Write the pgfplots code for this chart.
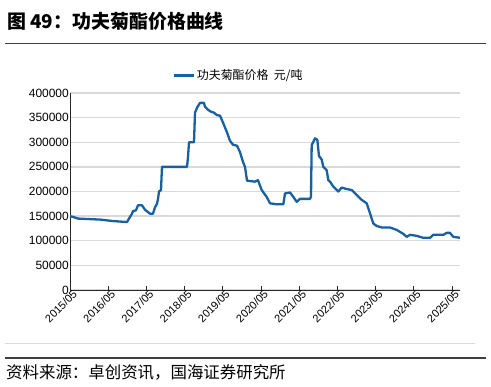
\documentclass[border=0pt]{standalone}
\usepackage{pgfplots}
\pgfplotsset{compat=1.18}
\usepackage{fontspec}
\setmainfont{Liberation Sans}
\newfontfamily\cjk{Noto Sans CJK SC}
\definecolor{lineblue}{RGB}{22,96,164}
\definecolor{gridgray}{RGB}{217,217,217}
\begin{document}
\begin{tikzpicture}[x=1bp,y=1bp]
\path[use as bounding box] (0,0) rectangle (491,386);
% title
\node[anchor=west,inner sep=0pt] at (7,365) {\fontsize{19}{22}\selectfont\cjk\bfseries 图 49：功夫菊酯价格曲线};
\draw[line width=1.2bp,color=black!75] (5,342.5) -- (486,342.5);
% bottom rules
\draw[line width=1bp,color=gridgray] (5,43) -- (475,43);
\draw[line width=1.2bp,color=black!75] (5,28) -- (486,28);
\node[anchor=west,inner sep=0pt] at (6,14) {\fontsize{16.5}{19}\selectfont\cjk 资料来源：卓创资讯，国海证券研究所};
\begin{axis}[
  at={(70bp,96bp)}, anchor=south west,
  scale only axis, width=390bp, height=197bp,
  xmin=0, xmax=10.21, ymin=0, ymax=400000,
  axis x line*=bottom, axis y line*=left,
  axis line style={line width=1bp,black!85},
  xtick={0,1,2,3,4,5,6,7,8,9,10},
  xticklabels={2015/05,2016/05,2017/05,2018/05,2019/05,2020/05,2021/05,2022/05,2023/05,2024/05,2025/05},
  x tick label style={rotate=45,anchor=north east,font=\fontsize{11}{13}\selectfont,inner sep=1bp,xshift=3bp},
  ytick={0,50000,100000,150000,200000,250000,300000,350000,400000},
  y tick label style={font=\fontsize{12}{14}\selectfont,inner sep=1bp},
  yticklabel style={/pgf/number format/fixed,/pgf/number format/1000 sep={}},
  /pgf/number format/assume math mode=true,
  scaled y ticks=false,
  ymajorgrids, major grid style={gridgray,line width=1.3bp},
  xtick align=inside, major tick length=4bp,
  ytick style={draw=none},
  xtick style={black!85,line width=0.8bp},
  legend style={at={(0.262,1.09)},anchor=west,draw=none,fill=none,font=\fontsize{12}{14}\selectfont\cjk,inner sep=0pt},
  legend cell align=left,
  legend image code/.code={\draw[#1,line width=2.5bp] (0bp,0bp) -- (20bp,0bp);},
  clip=false,
]
\addplot[lineblue,line width=2.3bp,line join=round] coordinates {
(0,150000)(0.052,149000)(0.209,145000)(0.785,143000)(1.126,140000)(1.492,138000)
(1.545,145000)(1.623,155000)(1.649,160000)(1.728,162000)(1.780,172000)(1.885,172000)
(1.963,163000)(2.094,155000)(2.173,155000)(2.225,168000)(2.277,175000)(2.304,185000)
(2.330,200000)(2.382,203000)(2.408,250000)(3.063,250000)(3.089,270000)(3.115,300000)
(3.246,300000)(3.272,360000)(3.325,370000)(3.403,380000)(3.508,380000)(3.534,372000)
(3.613,366000)(3.691,362000)(3.770,360000)(3.848,355000)(3.927,354000)(4.005,340000)
(4.110,320000)(4.188,303000)(4.267,295000)(4.372,293000)(4.450,280000)(4.529,260000)
(4.581,250000)(4.634,222000)(4.843,220000)(4.921,223000)(5.018,203000)(5.149,189000)
(5.236,176000)(5.411,174000)(5.584,174000)(5.628,196000)(5.759,198000)(5.838,190000)
(5.935,179000)(6.021,185000)(6.283,185000)(6.309,190000)(6.327,294000)(6.414,308000)
(6.474,305000)(6.518,272000)(6.589,265000)(6.631,250000)(6.720,243000)(6.762,223000)
(6.806,220000)(6.893,210000)(7.024,200000)(7.113,208000)(7.243,205000)(7.374,203000)
(7.505,193000)(7.636,183000)(7.767,176000)(7.853,156000)(7.940,135000)(8.029,130000)
(8.160,127000)(8.377,127000)(8.552,122000)(8.725,114000)(8.814,108000)(8.901,112000)
(9.076,110000)(9.249,106000)(9.424,106000)(9.510,112000)(9.772,112000)(9.860,116000)
(9.948,116000)(10.034,108000)(10.209,106000)
};
\addlegendentry{功夫菊酯价格\ \ 元/吨}
\end{axis}
\end{tikzpicture}
\end{document}
